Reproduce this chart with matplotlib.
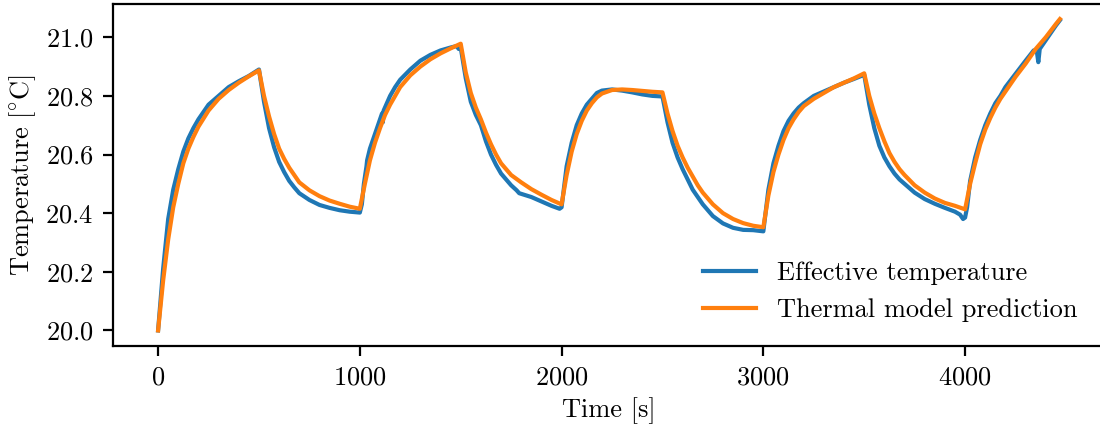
import matplotlib
matplotlib.use("Agg")
import matplotlib.pyplot as plt

# LaTeX-like look without LaTeX: computer modern shipped with matplotlib
plt.rcParams["font.family"] = "serif"
plt.rcParams["font.serif"] = ["cmr10"]
plt.rcParams["mathtext.fontset"] = "cm"
plt.rcParams["axes.formatter.use_mathtext"] = True
plt.rcParams["font.size"] = 9.5

# --- data ---
t_model = [0, 25, 50, 75, 100, 125, 150, 175, 200, 250, 300, 350, 400, 450, 500,
           525, 550, 575, 600, 625, 650, 675, 700, 750, 800, 850, 900, 950, 1000,
           1025, 1050, 1075, 1100, 1125, 1150, 1175, 1200, 1250, 1300, 1350, 1400, 1450, 1500,
           1525, 1550, 1575, 1600, 1625, 1650, 1675, 1700, 1750, 1800, 1850, 1900, 1950, 2000,
           2025, 2050, 2075, 2100, 2125, 2150, 2175, 2200, 2250, 2300, 2350, 2400, 2450, 2500,
           2525, 2550, 2575, 2600, 2625, 2650, 2675, 2700, 2750, 2800, 2850, 2900, 2950, 3000,
           3025, 3050, 3075, 3100, 3125, 3150, 3175, 3200, 3250, 3300, 3350, 3400, 3450, 3500,
           3525, 3550, 3575, 3600, 3625, 3650, 3675, 3700, 3750, 3800, 3850, 3900, 3950, 4000,
           4025, 4050, 4075, 4100, 4125, 4150, 4175, 4200, 4250, 4300, 4350, 4400, 4450, 4470]
temp_model = [20.00, 20.17, 20.31, 20.42, 20.50, 20.57, 20.62, 20.66, 20.695, 20.75, 20.79, 20.82, 20.845, 20.867, 20.887,
              20.80, 20.73, 20.67, 20.62, 20.585, 20.555, 20.53, 20.505, 20.478, 20.458, 20.443, 20.432, 20.422, 20.415,
              20.50, 20.58, 20.64, 20.69, 20.735, 20.77, 20.80, 20.83, 20.87, 20.90, 20.925, 20.945, 20.962, 20.978,
              20.88, 20.81, 20.76, 20.72, 20.675, 20.635, 20.60, 20.57, 20.53, 20.505, 20.482, 20.463, 20.445, 20.43,
              20.53, 20.61, 20.67, 20.715, 20.75, 20.775, 20.795, 20.808, 20.82, 20.822, 20.82, 20.817, 20.814, 20.812,
              20.74, 20.68, 20.63, 20.59, 20.555, 20.525, 20.495, 20.47, 20.43, 20.40, 20.38, 20.366, 20.357, 20.352,
              20.46, 20.54, 20.60, 20.65, 20.69, 20.72, 20.745, 20.765, 20.79, 20.81, 20.83, 20.845, 20.86, 20.877,
              20.80, 20.74, 20.69, 20.645, 20.605, 20.575, 20.55, 20.53, 20.495, 20.47, 20.45, 20.435, 20.425, 20.413,
              20.50, 20.57, 20.635, 20.685, 20.725, 20.76, 20.79, 20.815, 20.865, 20.91, 20.96, 21.00, 21.045, 21.062]

t_eff = [0, 25, 50, 75, 100, 125, 150, 175, 200, 250, 300, 350, 400, 450, 500,
         525, 550, 575, 600, 625, 650, 675, 700, 750, 800, 850, 900, 950, 1000,
         1010, 1020, 1033, 1036, 1050, 1075, 1100, 1110, 1114, 1118, 1150, 1175, 1200, 1250, 1300,
         1350, 1400, 1450, 1480, 1490, 1500,
         1525, 1550, 1575, 1600, 1625, 1650, 1675, 1700, 1750, 1777, 1790, 1850, 1900, 1950, 1990, 2000,
         2025, 2050, 2075, 2100, 2125, 2150, 2175, 2200, 2250, 2300, 2350, 2400, 2450, 2500,
         2525, 2550, 2575, 2600, 2625, 2650, 2675, 2700, 2750, 2800, 2850, 2900, 2950, 3000,
         3025, 3050, 3075, 3100, 3125, 3150, 3175, 3200, 3250, 3300, 3350, 3400, 3450, 3500,
         3525, 3550, 3575, 3600, 3625, 3650, 3675, 3700, 3750, 3800, 3850, 3900, 3950, 3975, 3990, 4000,
         4010, 4025, 4050, 4075, 4100, 4125, 4150, 4175, 4200, 4250, 4300, 4340, 4355, 4363, 4370,
         4400, 4450, 4470]
temp_eff = [20.00, 20.21, 20.38, 20.48, 20.55, 20.61, 20.655, 20.69, 20.72, 20.77, 20.80, 20.83, 20.85, 20.868, 20.89,
            20.78, 20.69, 20.625, 20.575, 20.54, 20.51, 20.488, 20.468, 20.445, 20.428, 20.418, 20.41, 20.405, 20.402,
            20.43, 20.50, 20.56, 20.58, 20.62, 20.67, 20.72, 20.74, 20.71, 20.75, 20.80, 20.83, 20.855, 20.89, 20.92,
            20.94, 20.955, 20.965, 20.97, 20.96, 20.965,
            20.86, 20.78, 20.735, 20.70, 20.645, 20.60, 20.565, 20.535, 20.495, 20.478, 20.468, 20.455, 20.44, 20.425, 20.415, 20.42,
            20.56, 20.64, 20.70, 20.74, 20.77, 20.79, 20.81, 20.818, 20.822, 20.818, 20.812, 20.805, 20.80, 20.798,
            20.71, 20.64, 20.59, 20.55, 20.515, 20.48, 20.455, 20.43, 20.39, 20.365, 20.35, 20.343, 20.342, 20.338,
            20.48, 20.57, 20.63, 20.68, 20.715, 20.74, 20.76, 20.775, 20.80, 20.815, 20.83, 20.845, 20.858, 20.872,
            20.77, 20.69, 20.63, 20.59, 20.56, 20.535, 20.515, 20.50, 20.47, 20.448, 20.432, 20.418, 20.405, 20.395, 20.38, 20.385,
            20.42, 20.51, 20.59, 20.65, 20.70, 20.74, 20.775, 20.80, 20.83, 20.875, 20.92, 20.955, 20.955, 20.915, 20.96,
            20.99, 21.04, 21.058]

fig = plt.figure(figsize=(5.5, 2.125), dpi=200)
ax = fig.add_axes([113 / 1100, 79 / 425, 992 / 1100, 342.5 / 425])

ax.plot(t_eff, temp_eff, color="tab:blue", lw=1.5, label="Effective temperature")
ax.plot(t_model, temp_model, color="tab:orange", lw=1.5, label="Thermal model prediction")

ax.set_xticks([0, 1000, 2000, 3000, 4000])
ax.set_yticks([20.0, 20.2, 20.4, 20.6, 20.8, 21.0])
ax.set_xlabel("Time [s]", labelpad=3)
ax.set_ylabel(r"$\mathrm{Temperature\ [^{\circ}C]}$", labelpad=2.5)
# right spine sits just past the cropped edge, so nudge the legend in a bit
ax.legend(loc="lower right", frameon=False, bbox_to_anchor=(1 - 4 / 992, 0))

fig.savefig("out.png", dpi=200)
